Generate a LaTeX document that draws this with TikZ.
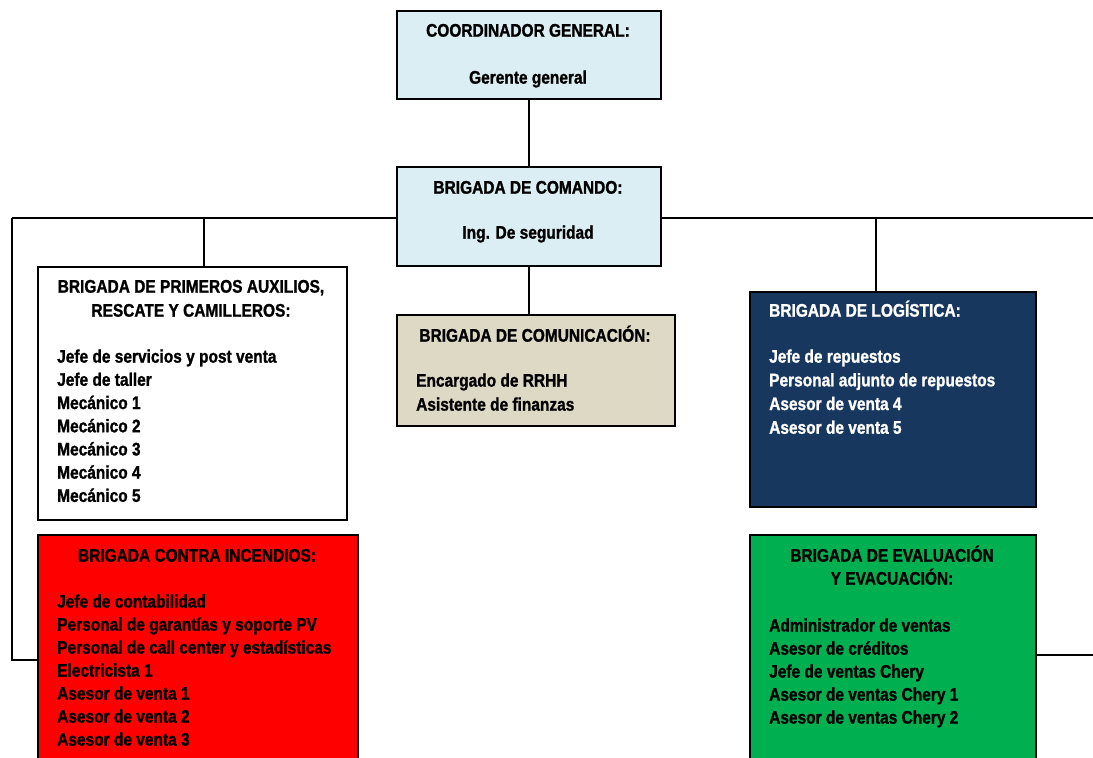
\documentclass[tikz,border=0pt]{standalone}
\usepackage{fontspec}
\setmainfont[FakeStretch=0.85,FakeBold=1.2]{Liberation Sans}
\definecolor{lblue}{HTML}{DBEEF4}
\definecolor{tanbox}{HTML}{DDD9C4}
\definecolor{navybox}{HTML}{17375E}
\definecolor{grnbox}{HTML}{00B050}
\definecolor{redbox}{HTML}{FF0000}
\tikzset{
  orgbox/.style={draw=black, line width=1.6pt, inner sep=0pt, anchor=north west},
  conn/.style={draw=black, line width=1.6pt},
  ttl/.style={font=\bfseries\fontsize{18.2}{22}\selectfont, inner sep=0pt, anchor=mid, yshift=-3pt},
  itm/.style={font=\bfseries\fontsize{18.2}{22}\selectfont, inner sep=0pt, anchor=mid west, yshift=-3pt},
}
\begin{document}
\begin{tikzpicture}[x=1pt,y=-1pt]
\useasboundingbox (0,0) rectangle (1093,758);
% boxes
\node[orgbox, fill=lblue, minimum width=264pt, minimum height=88pt] (coord) at (396,10) {};
\node[orgbox, fill=lblue, minimum width=264pt, minimum height=99pt] (cmd) at (396,166) {};
\node[orgbox, fill=white, minimum width=309pt, minimum height=253pt] (prim) at (37,266) {};
\node[orgbox, fill=tanbox, minimum width=278pt, minimum height=111pt] (comm) at (396,314) {};
\node[orgbox, fill=navybox, minimum width=286pt, minimum height=215pt] (logi) at (749,291) {};
\node[orgbox, fill=redbox, minimum width=320pt, minimum height=260pt] (inc) at (37,534) {};
\node[orgbox, fill=grnbox, minimum width=286pt, minimum height=260pt] (eval) at (749,534) {};
% junction coordinates
\coordinate (hl) at (12,218);
\coordinate (hr) at (1093,218);
\coordinate (jp) at (204,218);
\coordinate (jl) at (876,218);
\coordinate (ll) at (12,660);
\coordinate (er) at (1093,655);
% connectors
\draw[conn] (coord.south) -- (cmd.north);
\draw[conn] (hl) -- (cmd.west |- hl);
\draw[conn] (cmd.east |- hr) -- (hr);
\draw[conn] (jp) -- (jp |- prim.north);
\draw[conn] (jl) -- (jl |- logi.north);
\draw[conn] (cmd.south) -- (cmd.south |- comm.north);
\draw[conn] (hl) -- (ll) -- (ll -| inc.west);
\draw[conn] (er -| eval.east) -- (er);
% texts
\node[ttl] (t1) at (528,31) {COORDINADOR GENERAL:};
\node[ttl] (t1b) at (528,78) {Gerente general};
\node[ttl] (t2) at (528,188) {BRIGADA DE COMANDO:};
\node[ttl] (t2b) at (528,233) {Ing. De seguridad};
\node[ttl] (t3) at (191,287) {BRIGADA DE PRIMEROS AUXILIOS,};
\node[ttl] (t3b) at (191,311) {RESCATE Y CAMILLEROS:};
\foreach \t [count=\i] in {Jefe de servicios y post venta, Jefe de taller, Mecánico 1, Mecánico 2, Mecánico 3, Mecánico 4, Mecánico 5}
  \node[itm, name=p\i] at (57, 357+23.2*\i-23.2) {\t};
\node[ttl] (t4) at (535,336) {BRIGADA DE COMUNICACIÓN:};
\foreach \t [count=\i] in {Encargado de RRHH, Asistente de finanzas}
  \node[itm, name=c\i] at (416, 381+24*\i-24) {\t};
\node[itm, text=white] (t5) at (769,311) {BRIGADA DE LOGÍSTICA:};
\foreach \t [count=\i] in {Jefe de repuestos, Personal adjunto de repuestos, Asesor de venta 4, Asesor de venta 5}
  \node[itm, text=white, name=l\i] at (769, 357+23.7*\i-23.7) {\t};
\node[ttl] (t6) at (197,556) {BRIGADA CONTRA INCENDIOS:};
\foreach \t [count=\i] in {Jefe de contabilidad, Personal de garantías y soporte PV, Personal de call center y estadísticas, Electricista 1, Asesor de venta 1, Asesor de venta 2, Asesor de venta 3}
  \node[itm, name=f\i] at (57, 602+23*\i-23) {\t};
\node[ttl] (t7) at (892,556) {BRIGADA DE EVALUACIÓN};
\node[ttl] (t7b) at (892,579) {Y EVACUACIÓN:};
\foreach \t [count=\i] in {Administrador de ventas, Asesor de créditos, Jefe de ventas Chery, Asesor de ventas Chery 1, Asesor de ventas Chery 2}
  \node[itm, name=e\i] at (769, 626+23*\i-23) {\t};
\end{tikzpicture}
\end{document}
